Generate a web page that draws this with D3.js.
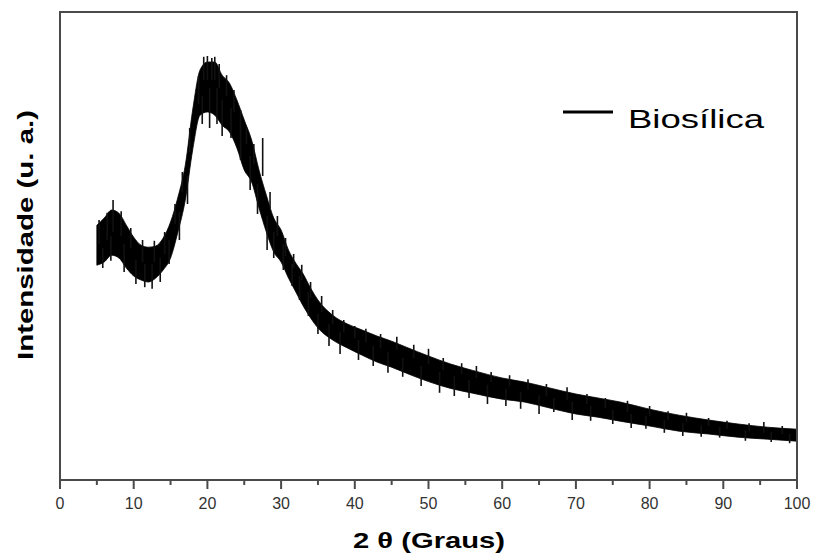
<!DOCTYPE html>
<html>
<head>
<meta charset="utf-8">
<script src="https://cdn.jsdelivr.net/npm/d3@7"></script>
<style>
  body { margin: 0; background: #fff; }
  text { font-family: "Liberation Sans", Arial, sans-serif; }
</style>
</head>
<body>
<div id="chart"></div>
<script>
// XRD pattern (band = upper / lower edge of the noisy trace)
var twoTheta = [5, 6, 7, 8, 9, 10, 11, 12, 13, 14, 15, 16, 17, 18, 19, 20, 21, 22, 23, 24, 25, 26, 27, 28, 29, 30,
                31, 32, 33, 34, 35, 37, 39, 41, 43, 45, 47, 50, 53, 56, 60, 63, 66, 70, 73, 76, 80, 84, 88, 92, 96, 100];
var upper = [637, 655, 675, 667, 637, 607, 587, 582, 585, 605, 645, 707, 787, 925, 1025, 1045, 1045, 1012, 992, 950, 900, 850, 775, 712, 655, 625,
             575, 542, 515, 480, 450, 412, 390, 375, 360, 347, 332, 310, 290, 274, 255, 245, 232, 215, 205, 195, 177, 162, 150, 140, 132, 127];
var lower = [537, 545, 562, 555, 530, 510, 500, 495, 505, 525, 555, 620, 700, 825, 912, 920, 912, 887, 870, 830, 775, 745, 680, 620, 570, 545,
             505, 470, 435, 405, 380, 350, 330, 312, 295, 282, 267, 246, 229, 217, 202, 195, 182, 165, 157, 147, 135, 122, 115, 107, 102, 97];

// noise spikes sticking up out of the band: position, base, tip
var upTheta = [5.3, 6.4, 7.2, 8.3, 9.6, 11.2, 12.8, 14.2, 15.6, 16.6, 17.6, 18.8, 19.5, 20.0, 20.6, 21.0, 21.6, 22.6, 23.6, 24.5,
               25.3, 26.3, 27.5, 28.5, 29.5, 30.6, 31.7, 32.8, 34.0, 35.5, 37.0, 38.5, 40.0, 41.5, 43.5, 45.7, 48.0, 50.0, 52.0,
               54.5, 56.5, 58.5, 61.0, 63.5, 66.0, 68.8, 71.5, 74.0, 77.0, 80.0, 82.5, 85.0, 88.0, 90.5, 93.5, 95.5, 98.0];
var upFrom  = [590, 600, 620, 610, 580, 545, 545, 565, 640, 720, 820, 940, 1000, 1000, 1000, 1000, 980, 960, 920, 870,
               840, 790, 760, 680, 610, 560, 530, 500, 455, 420, 390, 370, 355, 345, 330, 325, 305, 290, 275,
               265, 255, 245, 235, 225, 210, 200, 190, 180, 170, 160, 150, 145, 135, 128, 122, 118, 115];
var upTip   = [650, 668, 700, 672, 630, 600, 598, 620, 690, 770, 880, 1010, 1058, 1060, 1055, 1058, 1040, 1012, 975, 925,
               880, 840, 855, 720, 660, 605, 565, 538, 495, 460, 425, 400, 385, 378, 365, 358, 338, 328, 305,
               292, 285, 270, 262, 252, 240, 232, 215, 205, 198, 185, 172, 168, 155, 148, 142, 145, 135];

// noise spikes pointing down out of the band: position, base, tip
var downTheta = [5.8, 6.9, 8.7, 10.3, 11.5, 12.5, 13.6, 14.8, 16.2, 17.3, 19.3, 20.3, 21.3, 22.0, 23.2, 24.5, 25.8, 26.8, 28.1,
                 29.0, 30.3, 31.5, 32.5, 33.7, 35.0, 36.5, 38.0, 40.5, 42.5, 44.5, 46.5, 49.0, 51.5, 53.5, 55.5, 58.0, 60.5,
                 62.5, 65.0, 67.0, 69.5, 72.0, 75.0, 77.5, 79.5, 82.0, 84.5, 87.0, 89.5, 93.0, 96.5, 99.0];
var downFrom  = [580, 610, 590, 550, 540, 540, 555, 600, 670, 760, 960, 980, 980, 950, 930, 890, 810, 740, 660,
                 620, 590, 540, 510, 470, 415, 390, 370, 350, 335, 320, 305, 285, 270, 260, 250, 238, 228,
                 220, 212, 205, 195, 185, 175, 165, 160, 150, 143, 137, 132, 125, 120, 115];
var downTip   = [530, 548, 520, 490, 482, 478, 495, 540, 600, 690, 890, 880, 890, 860, 855, 800, 725, 665, 575,
                 555, 525, 485, 450, 410, 365, 335, 315, 300, 285, 268, 258, 235, 218, 210, 205, 190, 185,
                 178, 165, 170, 150, 148, 140, 130, 128, 118, 110, 108, 106, 98, 95, 92];

var xTicks = [0, 10, 20, 30, 40, 50, 60, 70, 80, 90, 100];
var xMinorTicks = [5, 15, 25, 35, 45, 55, 65, 75, 85, 95];

var xTitle = "2 \u03b8 (Graus)";
var yTitle = "Intensidade (u. a.)";
var seriesName = "Biosílica";

var w = 817, h = 553;
var margin = {left: 60, right: 20, top: 12, bottom: 73};
var plotW = w - margin.left - margin.right;
var plotH = h - margin.top - margin.bottom;

var svg = d3.select("#chart").append("svg")
    .attr("width", w)
    .attr("height", h);

var x = d3.scaleLinear().domain([0, 100]).range([0, plotW]);
var y = d3.scaleLinear().domain([0, 1170]).range([plotH, 0]);

var g = svg.append("g")
    .attr("transform", "translate(" + margin.left + "," + margin.top + ")");

var bandData = twoTheta.map(function(d, i) { return {t: d, hi: upper[i], lo: lower[i]}; });

var area = d3.area()
    .x(function(d) { return x(d.t); })
    .y0(function(d) { return y(d.lo); })
    .y1(function(d) { return y(d.hi); })
    .curve(d3.curveMonotoneX);

g.append("path")
    .datum(bandData)
    .attr("d", area)
    .attr("fill", "#000")
    .attr("stroke", "#000")
    .attr("stroke-width", 0.8);

function addSpikes(cls, thetas, from, tip) {
    g.selectAll("line." + cls)
        .data(thetas)
        .enter().append("line")
        .attr("class", cls)
        .attr("x1", function(d) { return x(d); })
        .attr("x2", function(d) { return x(d); })
        .attr("y1", function(d, i) { return y(from[i]); })
        .attr("y2", function(d, i) { return y(tip[i]); })
        .attr("stroke", "#111")
        .attr("stroke-width", 1.6);
}
addSpikes("up", upTheta, upFrom, upTip);
addSpikes("down", downTheta, downFrom, downTip);

// frame
g.append("rect")
    .attr("x", 0).attr("y", 0)
    .attr("width", plotW).attr("height", plotH)
    .attr("fill", "none")
    .attr("stroke", "#4a4a4a")
    .attr("stroke-width", 2);

var xax = g.append("g")
    .attr("transform", "translate(0," + plotH + ")");

xax.selectAll("line.major")
    .data(xTicks)
    .enter().append("line")
    .attr("class", "major")
    .attr("x1", function(d) { return x(d); })
    .attr("x2", function(d) { return x(d); })
    .attr("y1", 0).attr("y2", 9)
    .attr("stroke", "#4a4a4a")
    .attr("stroke-width", 2);

xax.selectAll("line.minor")
    .data(xMinorTicks)
    .enter().append("line")
    .attr("class", "minor")
    .attr("x1", function(d) { return x(d); })
    .attr("x2", function(d) { return x(d); })
    .attr("y1", 0).attr("y2", 5)
    .attr("stroke", "#4a4a4a")
    .attr("stroke-width", 2);

xax.selectAll("text")
    .data(xTicks)
    .enter().append("text")
    .attr("x", function(d) { return x(d); })
    .attr("y", 29)
    .attr("text-anchor", "middle")
    .attr("font-size", 16)
    .attr("font-family", "'DejaVu Sans', sans-serif")
    .attr("fill", "#333")
    .text(function(d) { return d; });

svg.append("text")
    .attr("x", 429)
    .attr("y", 548)
    .attr("text-anchor", "middle")
    .attr("font-size", 22)
    .attr("font-weight", "bold")
    .attr("textLength", 152)
    .attr("lengthAdjust", "spacingAndGlyphs")
    .text(xTitle);

svg.append("text")
    .attr("transform", "translate(33,235) rotate(-90)")
    .attr("text-anchor", "middle")
    .attr("font-size", 22)
    .attr("font-weight", "bold")
    .attr("textLength", 250)
    .attr("lengthAdjust", "spacingAndGlyphs")
    .text(yTitle);

// legend
svg.append("line")
    .attr("x1", 563).attr("x2", 613)
    .attr("y1", 112).attr("y2", 112)
    .attr("stroke", "#000")
    .attr("stroke-width", 3);

svg.append("text")
    .attr("x", 628)
    .attr("y", 128)
    .attr("font-size", 26)
    .attr("textLength", 136)
    .attr("lengthAdjust", "spacingAndGlyphs")
    .text(seriesName);
</script>
</body>
</html>
